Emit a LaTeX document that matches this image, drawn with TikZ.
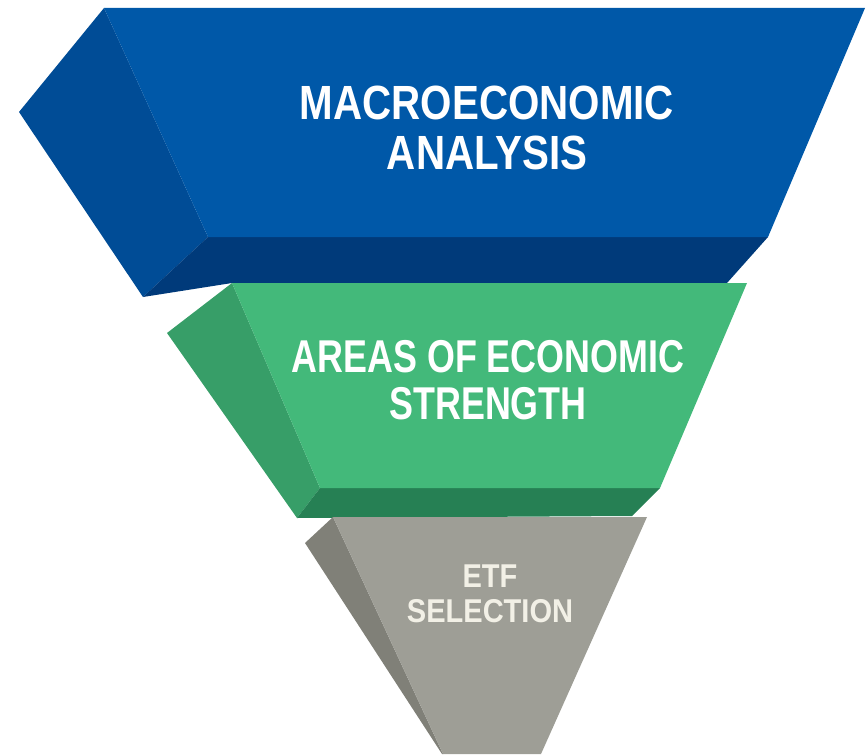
\documentclass[tikz,border=0pt]{standalone}
\usepackage{fontspec}
\setmainfont{Liberation Sans}
\newfontfamily\blockfont[FakeStretch=0.84]{Liberation Sans}
\newfontfamily\narrowfont[FakeStretch=0.78]{Liberation Sans}
\newfontfamily\tipfont[FakeStretch=0.88]{Liberation Sans}

\definecolor{bluefront}{RGB}{0,88,168}
\definecolor{blueside}{RGB}{0,76,150}
\definecolor{bluebottom}{RGB}{0,58,122}
\definecolor{greenfront}{RGB}{67,185,122}
\definecolor{greenside}{RGB}{55,158,104}
\definecolor{greenbottom}{RGB}{38,128,84}
\definecolor{grayfront}{RGB}{158,158,150}
\definecolor{grayside}{RGB}{128,128,120}
\definecolor{graytext}{RGB}{242,240,230}

\begin{document}
\begin{tikzpicture}[x=1pt,y=-1pt,
  blocktext/.style={text=white,align=center,inner sep=0pt}]
\useasboundingbox (0,0) rectangle (866,754);
% top block
\fill[blueside] (104,8) -- (19,112) -- (143,297) -- (208,237) -- cycle;
\fill[bluebottom] (208,237) -- (768,237) -- (727,283) -- (232,283) -- (143,297) -- cycle;
\fill[bluefront] (104,8) -- (865,8) -- (768,237) -- (208,237) -- cycle;
\node[blocktext,font=\blockfont\bfseries\fontsize{48}{50}\selectfont] (macro) at (487,127.5) {MACROECONOMIC\\ANALYSIS};
% middle block
\fill[greenside] (232,283) -- (167,333) -- (297,518) -- (320,488) -- cycle;
\fill[greenbottom] (320,488) -- (660,488) -- (632,516) -- (297,518) -- cycle;
\fill[greenfront] (232,283) -- (747,283) -- (660,488) -- (320,488) -- cycle;
\node[blocktext,font=\narrowfont\bfseries\fontsize{46}{47}\selectfont] (areas) at (488,380) {AREAS OF ECONOMIC\\STRENGTH};
% bottom block
\fill[grayside] (333,517) -- (305,543) -- (442,754) -- (443,754) -- cycle;
\fill[grayfront] (333,517) -- (647,517) -- (541,754) -- (443,754) -- cycle;
\node[blocktext,text=graytext,font=\tipfont\bfseries\fontsize{33}{35}\selectfont] (etf) at (490,594) {ETF\\SELECTION};
\end{tikzpicture}
\end{document}
